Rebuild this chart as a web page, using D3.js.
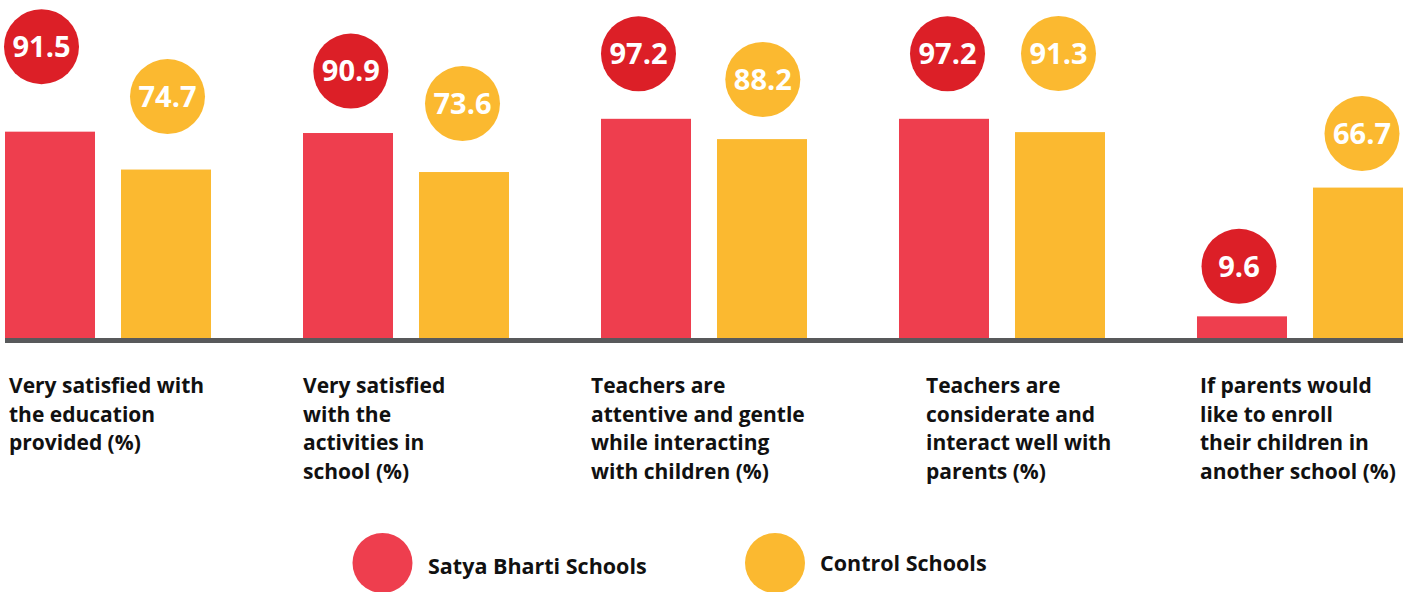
<!DOCTYPE html>
<html>
<head>
<meta charset="utf-8">
<script src="https://cdn.jsdelivr.net/npm/d3@7"></script>
<style>
  html, body { margin: 0; padding: 0; background: #ffffff; }
  svg { display: block; }
  text { font-family: "Open Sans", Lato, sans-serif; font-weight: 700; }
</style>
</head>
<body>
<svg id="chart" width="1413" height="592"></svg>
<script>
// ---- data ----
const categories = [
  ["Very satisfied with", "the education", "provided (%)"],
  ["Very satisfied", "with the", "activities in", "school (%)"],
  ["Teachers are", "attentive and gentle", "while interacting", "with children (%)"],
  ["Teachers are", "considerate and", "interact well with", "parents (%)"],
  ["If parents would", "like to enroll", "their children in", "another school (%)"]
];
const seriesNames = ["Satya Bharti Schools", "Control Schools"];
const satyaBharti = [91.5, 90.9, 97.2, 97.2, 9.6];
const controlSchools = [74.7, 73.6, 88.2, 91.3, 66.7];

// ---- layout (not data) ----
const W = 1413, H = 592;
const baseY = 338;
const barColors = ["#EE3E4E", "#FBB930"];
const bubbleColors = ["#DC1F27", "#FBB930"];
// bubble offsets: [dx from bar centre, lift above bar top]
const bubbleOffsets = [
  [[-8.5, 85], [1.5, 73]],
  [[2.8, 62], [-1.5, 68.5]],
  [[-7.5, 65], [0.8, 59.6]],
  [[3.5, 65], [-1.5, 78.6]],
  [[-3, 50], [4, 54]]
];
const labelX = [9, 303, 591, 926, 1200];

const svg = d3.select("#chart");

const x0 = d3.scaleBand().domain(d3.range(categories.length))
  .range([5, 1403]).paddingInner(0.3087).paddingOuter(0);
const x1 = d3.scaleBand().domain([0, 1])
  .range([0, x0.bandwidth()]).paddingInner(0.2241).paddingOuter(0);
const y = d3.scaleLinear().domain([0, 100]).range([baseY, baseY - 225.5]);

const rows = categories.map((c, i) => ({ i, vals: [satyaBharti[i], controlSchools[i]] }));

const groups = svg.selectAll("g.grp").data(rows).join("g")
  .attr("class", "grp")
  .attr("transform", d => `translate(${x0(d.i)},0)`);

groups.selectAll("rect.bar").data(d => d.vals.map((v, s) => ({ v, s, i: d.i }))).join("rect")
  .attr("class", "bar")
  .attr("x", d => x1(d.s))
  .attr("width", x1.bandwidth())
  .attr("y", d => y(d.v))
  .attr("height", d => baseY - y(d.v))
  .attr("fill", d => barColors[d.s]);

// baseline
svg.append("rect")
  .attr("x", x0.range()[0]).attr("y", baseY)
  .attr("width", x0.range()[1] - x0.range()[0]).attr("height", 5)
  .attr("fill", "#58595B");

// bubbles
const bub = groups.selectAll("g.bub").data(d => d.vals.map((v, s) => ({ v, s, i: d.i }))).join("g")
  .attr("class", "bub")
  .attr("transform", d => {
    const o = bubbleOffsets[d.i][d.s];
    return `translate(${x1(d.s) + x1.bandwidth() / 2 + o[0]},${y(d.v) - o[1]})`;
  });
bub.append("circle").attr("r", 37.5).attr("fill", d => bubbleColors[d.s]);
bub.append("text")
  .attr("text-anchor", "middle")
  .attr("dy", "0.36em")
  .attr("font-size", 29)
  .attr("fill", "#ffffff")
  .text(d => d3.format(".1f")(d.v));

// category labels
categories.forEach((lines, i) => {
  const t = svg.append("text")
    .attr("x", labelX[i]).attr("y", 393)
    .attr("font-size", 21)
    .attr("fill", "#111111");
  lines.forEach((ln, k) => {
    t.append("tspan").attr("x", labelX[i]).attr("y", 393 + k * 28.5).text(ln);
  });
});

// legend
const legendPos = [[382.5, 563, 428, 573.5], [775, 563, 820, 570.5]];
seriesNames.forEach((name, s) => {
  const p = legendPos[s];
  svg.append("circle").attr("cx", p[0]).attr("cy", p[1]).attr("r", 30).attr("fill", barColors[s]);
  svg.append("text").attr("x", p[2]).attr("y", p[3])
    .attr("font-size", 21.5).attr("fill", "#111111").text(name);
});
</script>
</body>
</html>
